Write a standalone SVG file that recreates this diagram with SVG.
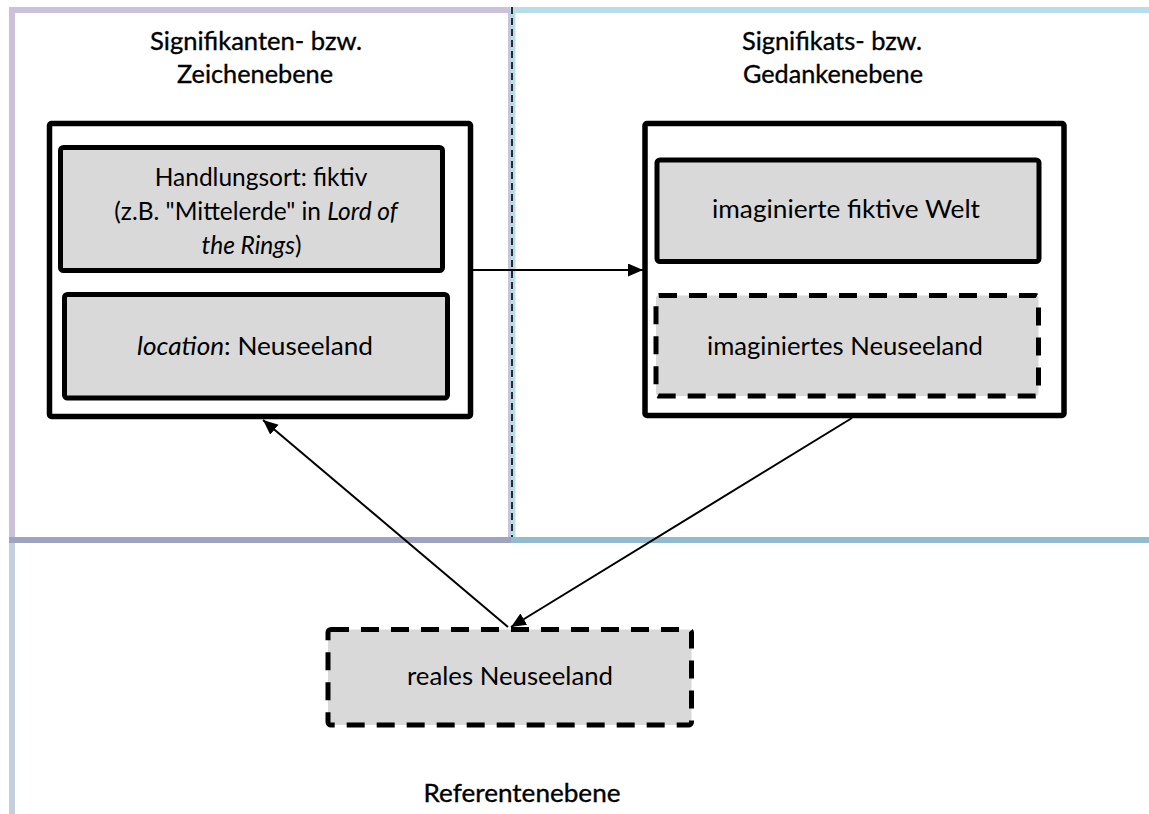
<svg xmlns="http://www.w3.org/2000/svg" width="1149" height="814" viewBox="0 0 1149 814">
  <defs>
    <marker id="arrow" markerUnits="userSpaceOnUse" markerWidth="16" markerHeight="14" refX="15" refY="6.5" orient="auto">
      <path d="M0,0 L15,6.5 L0,13 z" fill="#000"/>
    </marker>
    <style>
      .title { font-family: Lato, "Open Sans", sans-serif; font-size: 25.5px; fill: #000; stroke: #000; stroke-width: 0.35; text-anchor: middle; }
      .label { font-family: Lato, "Open Sans", sans-serif; font-size: 24.5px; fill: #000; text-anchor: middle; }
      .it { font-style: italic; }
      .frame { fill: #fff; stroke: #000; stroke-width: 5.5; }
      .box { fill: #d9d9d9; stroke: #000; stroke-width: 5; }
      .dashed { fill: #d9d9d9; stroke: #000; stroke-width: 5; stroke-dasharray: 18 12; stroke-linejoin: round; }
      .conn { fill: none; stroke: #000; stroke-width: 2; marker-end: url(#arrow); }
    </style>
  </defs>

  <rect width="1149" height="814" fill="#fff"/>

  <!-- three levels: signifier, signified, referent -->
  <g id="levels">
    <g id="level-signifier">
      <line x1="9" y1="10" x2="510" y2="10" stroke="#ccc1da" stroke-width="6"/>
      <line x1="12" y1="7" x2="12" y2="537" stroke="#ccc1da" stroke-width="6"/>
      <line x1="509.5" y1="7" x2="509.5" y2="537" stroke="#ccc1da" stroke-width="3"/>
      <text class="title" x="256" y="50" textLength="212" lengthAdjust="spacingAndGlyphs">Signifikanten- bzw.</text>
      <text class="title" x="255" y="83" textLength="156" lengthAdjust="spacingAndGlyphs">Zeichenebene</text>
    </g>
    <g id="level-signified">
      <line x1="510" y1="10" x2="1149" y2="10" stroke="#b7dde8" stroke-width="6"/>
      <line x1="513" y1="7" x2="513" y2="537" stroke="#b7dde8" stroke-width="5"/>
      <line x1="512" y1="7" x2="512" y2="540" stroke="#000" stroke-width="1.6" stroke-dasharray="7 4"/>
      <text class="title" x="832" y="50" textLength="180" lengthAdjust="spacingAndGlyphs">Signifikats- bzw.</text>
      <text class="title" x="833" y="83" textLength="180" lengthAdjust="spacingAndGlyphs">Gedankenebene</text>
    </g>
    <g id="level-referent">
      <line x1="9" y1="540" x2="511" y2="540" stroke="#9ea3c0" stroke-width="6"/>
      <line x1="511" y1="540" x2="1149" y2="540" stroke="#93bbd0" stroke-width="6"/>
      <line x1="12" y1="543" x2="12" y2="814" stroke="#c3cfde" stroke-width="6"/>
      <text class="title" x="522" y="802" textLength="197" lengthAdjust="spacingAndGlyphs">Referentenebene</text>
    </g>
  </g>

  <!-- connectors -->
  <g id="connectors">
    <line class="conn" x1="473" y1="270" x2="643" y2="270"/>
    <line class="conn" x1="508" y1="627" x2="263" y2="420"/>
    <line class="conn" x1="852" y1="418" x2="511" y2="627"/>
  </g>

  <!-- signifier level -->
  <g id="node-sign">
    <rect class="frame" x="49.5" y="123.5" width="421" height="293" rx="2"/>
  </g>
  <g id="node-handlungsort">
    <rect class="box" x="60.5" y="147.5" width="382" height="123" rx="3"/>
    <text class="label" x="261" y="186">Handlungsort: fiktiv</text>
    <text class="label" x="256" y="220">(z.B. "Mittelerde" in <tspan class="it">Lord of</tspan></text>
    <text class="label" x="251.5" y="254"><tspan class="it">the Rings</tspan>)</text>
  </g>
  <g id="node-location">
    <rect class="box" x="64.5" y="294.5" width="383" height="103.5" rx="3"/>
    <text class="label" x="255" y="355" textLength="236" lengthAdjust="spacingAndGlyphs"><tspan class="it">location</tspan>: Neuseeland</text>
  </g>

  <!-- signified level -->
  <g id="node-concept">
    <rect class="frame" x="645" y="123.5" width="419" height="292" rx="2"/>
  </g>
  <g id="node-fiktive-welt">
    <rect class="box" x="657" y="160" width="382" height="101.5" rx="3"/>
    <text class="label" x="846" y="218" textLength="268" lengthAdjust="spacingAndGlyphs">imaginierte fiktive Welt</text>
  </g>
  <g id="node-imaginiertes-neuseeland">
    <rect class="dashed" x="656" y="295.5" width="382.5" height="100.5" rx="3"/>
    <text class="label" x="845" y="355" textLength="276" lengthAdjust="spacingAndGlyphs">imaginiertes Neuseeland</text>
  </g>

  <!-- referent level -->
  <g id="node-reales-neuseeland">
    <rect class="dashed" x="328" y="629.5" width="363.5" height="95.5" rx="3"/>
    <text class="label" x="510" y="685" textLength="206" lengthAdjust="spacingAndGlyphs">reales Neuseeland</text>
  </g>
</svg>
